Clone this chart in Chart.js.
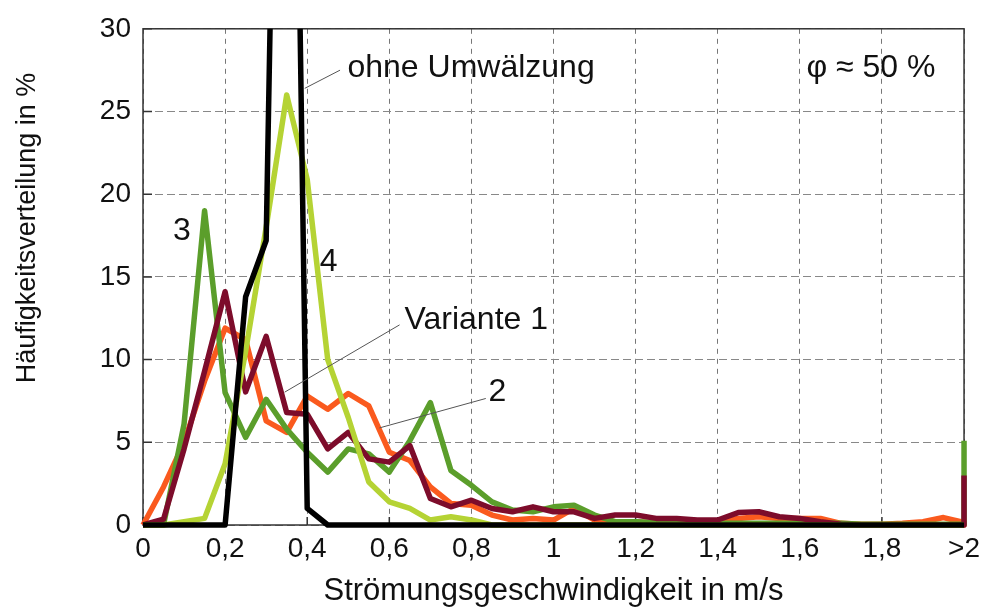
<!DOCTYPE html>
<html lang="de">
<head>
<meta charset="utf-8">
<title>Häufigkeitsverteilung der Strömungsgeschwindigkeit</title>
<script src="https://cdn.jsdelivr.net/npm/chart.js@4.4.1/dist/chart.umd.min.js"></script>
<style>
  html, body { margin: 0; padding: 0; background: #fff; }
  #wrap { position: relative; width: 987px; height: 613px; }
</style>
</head>
<body>
<div id="wrap"><canvas id="chart"></canvas></div>
<script>
// Geschwindigkeitsklassen in m/s (letzter Punkt = Klasse ">2", an x = 2 gezeichnet)
const speeds = [0, 0.05, 0.1, 0.15, 0.2, 0.25, 0.3, 0.35, 0.4, 0.45,
  0.5, 0.55, 0.6, 0.65, 0.7, 0.75, 0.8, 0.85, 0.9, 0.95,
  1.0, 1.05, 1.1, 1.15, 1.2, 1.25, 1.3, 1.35, 1.4, 1.45,
  1.5, 1.55, 1.6, 1.65, 1.7, 1.75, 1.8, 1.85, 1.9, 1.95,
  2.0, 2.0];

// Häufigkeiten in %
const ohneUmwaelzung = [0, 0, 0, 0, 0, 13.8, 17.2, 85, 1.0, 0,
  0, 0, 0, 0, 0, 0, 0, 0, 0, 0,
  0, 0, 0, 0, 0, 0, 0, 0, 0, 0,
  0, 0, 0, 0, 0, 0, 0, 0, 0, 0,
  0, 0];
const variante1 = [0, 0.35, 4.6, 9.3, 14.1, 8.05, 11.4, 6.8, 6.7, 4.6,
  5.6, 4.0, 3.8, 4.8, 1.6, 1.1, 1.5, 1.0, 0.8, 1.1,
  0.8, 0.8, 0.4, 0.6, 0.6, 0.4, 0.4, 0.3, 0.3, 0.75,
  0.8, 0.5, 0.4, 0.2, 0.05, 0, 0, 0, 0, 0,
  0, 3.0];
const variante2 = [0, 2.3, 5.0, 8.7, 11.9, 11.2, 6.3, 5.6, 7.8, 7.0,
  7.95, 7.2, 4.4, 3.9, 2.3, 1.3, 1.2, 0.6, 0.3, 0.4,
  0.3, 1.0, 0.3, 0.2, 0.2, 0.1, 0.1, 0.1, 0.2, 0.4,
  0.5, 0.4, 0.4, 0.4, 0.1, 0.05, 0.05, 0.1, 0.2, 0.45,
  0.15, 0];
const variante3 = [0, 0, 6.1, 19, 8, 5.3, 7.6, 5.8, 4.4, 3.2,
  4.6, 4.3, 3.2, 5.1, 7.4, 3.3, 2.4, 1.4, 0.9, 0.8,
  1.1, 1.2, 0.6, 0.2, 0.2, 0.15, 0.15, 0.1, 0.1, 0.1,
  0.1, 0.1, 0.1, 0.1, 0.1, 0.05, 0.05, 0.05, 0.05, 0.05,
  0.05, 5.1];
const variante4 = [0, 0, 0.2, 0.4, 3.7, 10.5, 18, 26, 20.9, 10,
  6.5, 2.6, 1.4, 1.0, 0.3, 0.5, 0.3, 0, 0, 0,
  0, 0, 0, 0, 0, 0, 0, 0, 0, 0,
  0, 0, 0, 0, 0, 0, 0, 0, 0, 0,
  0, 0];

// Achsenbeschriftungen
const xTickLabels = ['0', '0,2', '0,4', '0,6', '0,8', '1', '1,2', '1,4', '1,6', '1,8', '>2'];

// Beschriftungen im Diagramm (Datenkoordinaten)
const notes = [
  { text: 'ohne Umwälzung', x: 0.498, y: 27.6, align: 'left' },
  { text: 'φ ≈ 50 %', x: 1.616, y: 27.6, align: 'left' },
  { text: '3', x: 0.095, y: 17.75, align: 'center' },
  { text: '4', x: 0.452, y: 15.9, align: 'center' },
  { text: 'Variante 1', x: 0.637, y: 12.4, align: 'left' },
  { text: '2', x: 0.863, y: 8.05, align: 'center' }
];
const leaders = [
  [0.394, 26.4, 0.48, 27.5],
  [0.345, 8.03, 0.625, 12.1],
  [0.576, 5.87, 0.835, 7.65]
];

const FONT = "'Liberation Sans', Arial, sans-serif";

const toPoints = values => speeds.map((s, i) => ({ x: s, y: values[i] }));

const line = (label, values, color) => ({
  label,
  data: toPoints(values),
  borderColor: color,
  backgroundColor: color,
  borderWidth: 5.5,
  pointRadius: 0,
  tension: 0,
  fill: false,
  borderJoinStyle: 'round',
  clip: { left: 6, right: 6, top: 0, bottom: 6 }
});

// Rahmen, Striche, Beschriftungen
const overlay = {
  id: 'overlay',
  beforeDatasetsDraw(chart) {
    const { ctx, chartArea: a, scales: { x, y } } = chart;
    ctx.save();
    ctx.strokeStyle = '#333';
    ctx.lineWidth = 1.5;
    ctx.strokeRect(a.left, a.top, a.right - a.left, a.bottom - a.top);
    ctx.beginPath();
    y.ticks.forEach(t => {
      const py = y.getPixelForValue(t.value);
      ctx.moveTo(a.left, py); ctx.lineTo(a.left + 9, py);
    });
    x.ticks.forEach(t => {
      const px = x.getPixelForValue(t.value);
      ctx.moveTo(px, a.bottom); ctx.lineTo(px, a.bottom - 8);
    });
    ctx.stroke();
    ctx.restore();
  },
  afterDraw(chart) {
    const { ctx, scales: { x, y } } = chart;
    ctx.save();
    ctx.strokeStyle = '#555';
    ctx.lineWidth = 1;
    leaders.forEach(([x1, y1, x2, y2]) => {
      ctx.beginPath();
      ctx.moveTo(x.getPixelForValue(x1), y.getPixelForValue(y1));
      ctx.lineTo(x.getPixelForValue(x2), y.getPixelForValue(y2));
      ctx.stroke();
    });
    ctx.fillStyle = '#111';
    ctx.font = '32px ' + FONT;
    ctx.textBaseline = 'middle';
    notes.forEach(n => {
      ctx.textAlign = n.align;
      ctx.fillText(n.text, x.getPixelForValue(n.x), y.getPixelForValue(n.y));
    });
    // y-Achsentitel
    ctx.translate(28, 228);
    ctx.rotate(-Math.PI / 2);
    ctx.textAlign = 'center';
    ctx.font = '27px ' + FONT;
    ctx.fillText('Häufigkeitsverteilung in %', 0, 0);
    ctx.restore();
  }
};

const ctx = document.getElementById('chart').getContext('2d');
new Chart(ctx, {
  type: 'line',
  data: {
    datasets: [
      line('ohne Umwälzung', ohneUmwaelzung, '#000000'),
      line('4', variante4, '#b5d334'),
      line('Variante 1', variante1, '#7d0c2b'),
      line('3', variante3, '#5b9e2b'),
      line('2', variante2, '#fa5a1e')
    ]
  },
  options: {
    responsive: true,
    maintainAspectRatio: false,
    animation: false,
    layout: { padding: { top: 21, right: 19, left: 0, bottom: 0 } },
    plugins: {
      legend: { display: false },
      tooltip: { enabled: false }
    },
    scales: {
      x: {
        type: 'linear',
        min: 0,
        max: 2,
        afterFit: axis => { axis.height = 88; },
        ticks: {
          stepSize: 0.2,
          autoSkip: false,
          maxRotation: 0,
          padding: 7,
          color: '#111',
          font: { family: FONT, size: 28 },
          callback: (value, index) => xTickLabels[index]
        },
        grid: { color: '#777', lineWidth: 1, drawTicks: false, tickLength: 0 },
        border: { display: false, dash: [5, 5] },
        title: {
          display: true,
          text: 'Strömungsgeschwindigkeit in m/s',
          color: '#111',
          font: { family: FONT, size: 31 },
          padding: { top: 0, bottom: 3 }
        }
      },
      y: {
        min: 0,
        max: 30,
        afterFit: axis => { axis.width = 143; },
        ticks: {
          stepSize: 5,
          padding: 12,
          color: '#111',
          font: { family: FONT, size: 28 }
        },
        grid: { color: '#888', lineWidth: 1, drawTicks: false, tickLength: 0 },
        border: { display: false, dash: [8, 4] }
      }
    }
  },
  plugins: [overlay]
});
</script>
</body>
</html>
